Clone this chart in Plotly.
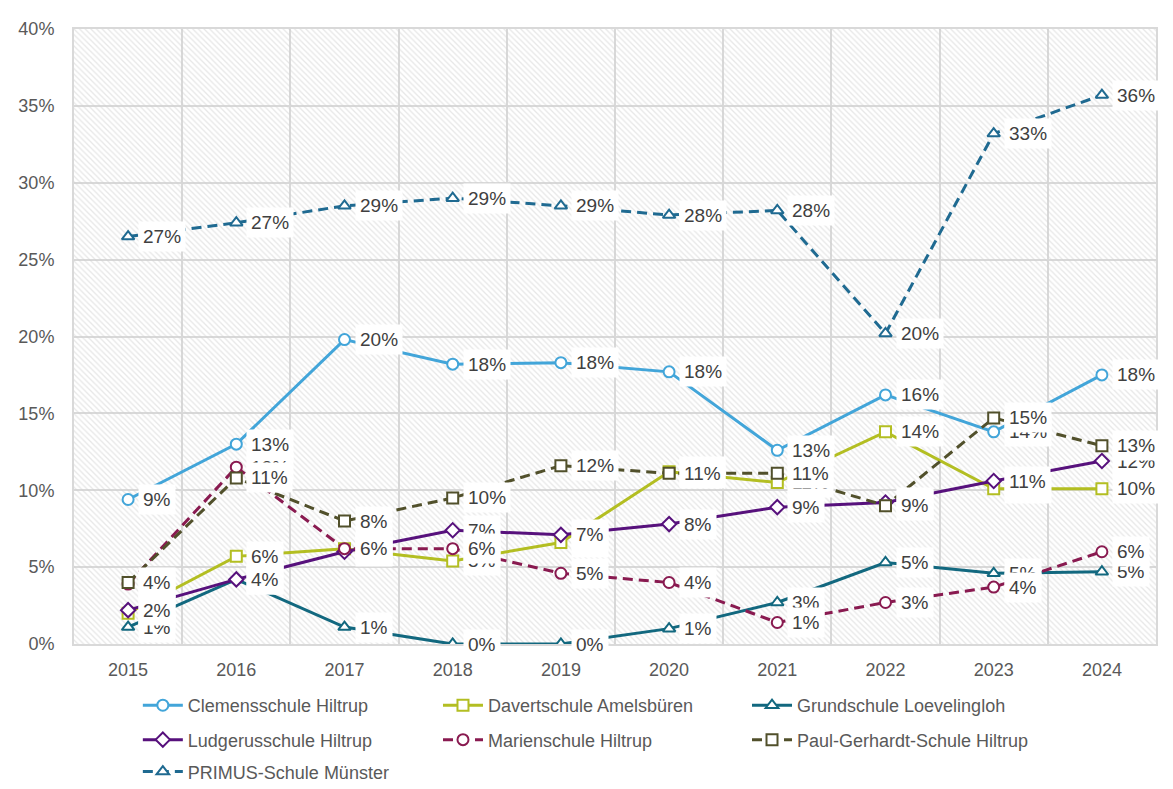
import plotly.graph_objects as go

years = [2015, 2016, 2017, 2018, 2019, 2020, 2021, 2022, 2023, 2024]

series_names = [
    "Clemensschule Hiltrup",
    "Davertschule Amelsbüren",
    "Grundschule Loevelingloh",
    "Ludgerusschule Hiltrup",
    "Marienschule Hiltrup",
    "Paul-Gerhardt-Schule Hiltrup",
    "PRIMUS-Schule Münster",
]

clemens = [9.4, 13.0, 19.8, 18.2, 18.3, 17.7, 12.6, 16.2, 13.8, 17.5]
davert = [2.0, 5.7, 6.2, 5.4, 6.6, 11.2, 10.5, 13.8, 10.1, 10.1]
grund = [1.1, 4.2, 1.1, 0.0, 0.0, 1.0, 2.7, 5.3, 4.6, 4.7]
ludger = [2.2, 4.2, 6.0, 7.4, 7.1, 7.8, 8.9, 9.2, 10.6, 11.9]
marien = [3.9, 11.5, 6.2, 6.2, 4.6, 4.0, 1.4, 2.7, 3.7, 6.0]
paul = [4.0, 10.8, 8.0, 9.5, 11.6, 11.1, 11.1, 9.0, 14.7, 12.9]
primus = [26.5, 27.4, 28.5, 29.0, 28.5, 27.9, 28.2, 20.2, 33.2, 35.7]

y_ticks = [0, 5, 10, 15, 20, 25, 30, 35, 40]

series_values = [clemens, davert, grund, ludger, marien, paul, primus]
colors = ["#42A5D9", "#B3BE22", "#12687F", "#57117C", "#891A50", "#51502B", "#1F6A91"]
symbols = ["circle", "square", "triangle-up", "diamond", "circle", "square", "triangle-up"]
dashes = ["solid", "solid", "solid", "solid", "10px,6px", "10px,6px", "10px,6px"]

# legend grid placement (3 columns, 3 rows)
legend_cols_x = [0.059, 0.3364, 0.622]
legend_rows_y = [-0.10, -0.156, -0.208]

FONT = "Liberation Sans, Arial, sans-serif"
GRID = "#d9d9d9"

x_lo, x_hi = years[0] - 0.5, years[-1] + 0.5
y_lo, y_hi = y_ticks[0], y_ticks[-1]

fig = go.Figure()

# hatched plot background
fig.add_trace(go.Bar(
    x=[(x_lo + x_hi) / 2], y=[y_hi - y_lo], base=[y_lo], width=[x_hi - x_lo],
    marker=dict(color="rgba(0,0,0,0)", line=dict(width=0),
                pattern=dict(shape="\\", size=4, solidity=0.33, fgcolor="#d0d0d0",
                             bgcolor="rgba(0,0,0,0)")),
    showlegend=False, hoverinfo="skip",
))

legend_layouts = {}
for i, (name, vals, c, s, d) in enumerate(zip(series_names, series_values, colors, symbols, dashes)):
    key = "legend" if i == 0 else f"legend{i + 1}"
    legend_layouts[key] = dict(
        orientation="h", xanchor="left", yanchor="middle",
        x=legend_cols_x[i % 3], y=legend_rows_y[i // 3],
        font=dict(family=FONT, size=18, color="#595959"),
        itemwidth=40, bgcolor="rgba(0,0,0,0)",
    )
    fig.add_trace(go.Scatter(
        x=years, y=vals, name=name, mode="lines+markers", legend=key,
        line=dict(color=c, width=3, dash=d),
        marker=dict(symbol=s, size=11, color="white",
                    line=dict(color=c, width=2)),
    ))

annotations = []
for vals in series_values:
    for x, v in zip(years, vals):
        annotations.append(dict(
            x=x, y=v, xref="x", yref="y", text=f"{int(v + 0.5)}%",
            showarrow=False, xanchor="left", yanchor="middle",
            xshift=10, bgcolor="white", borderpad=4,
            font=dict(family=FONT, size=19, color="#404040"),
        ))

fig.update_layout(
    width=1165, height=781,
    margin=dict(l=66, r=17, t=21, b=145, autoexpand=False),
    paper_bgcolor="white", plot_bgcolor="white",
    font=dict(family=FONT, color="#595959"),
    annotations=annotations,
    showlegend=True,
    shapes=[
        dict(type="line", xref="paper", yref="paper", x0=-0.062, x1=1.02, y0=1.036, y1=1.036,
             line=dict(color=GRID, width=2)),
        dict(type="line", xref="paper", yref="paper", x0=-0.062, x1=-0.062, y0=1.036, y1=-0.25,
             line=dict(color=GRID, width=2)),
    ],
    bargap=0,
    **legend_layouts,
)

fig.update_xaxes(
    range=[x_lo, x_hi], tickmode="array", tickvals=years, ticktext=[str(y) for y in years],
    showgrid=False, zeroline=False,
    minor=dict(tickmode="array", tickvals=[y - 0.5 for y in years] + [x_hi],
               showgrid=True, gridcolor=GRID, gridwidth=2, ticklen=0),
    showline=True, linecolor=GRID, linewidth=2, mirror=True,
    ticks="", tickfont=dict(family=FONT, size=18, color="#595959"),
    ticklabelstandoff=8,
)
fig.update_yaxes(
    range=[y_lo, y_hi], tickmode="array", tickvals=y_ticks,
    ticktext=[f"{t}%" for t in y_ticks],
    showgrid=True, gridcolor=GRID, gridwidth=2, zeroline=False,
    showline=True, linecolor=GRID, linewidth=2, mirror=True,
    ticks="", tickfont=dict(family=FONT, size=18, color="#595959"),
    ticklabelstandoff=14,
)

fig.write_html("out.html")
